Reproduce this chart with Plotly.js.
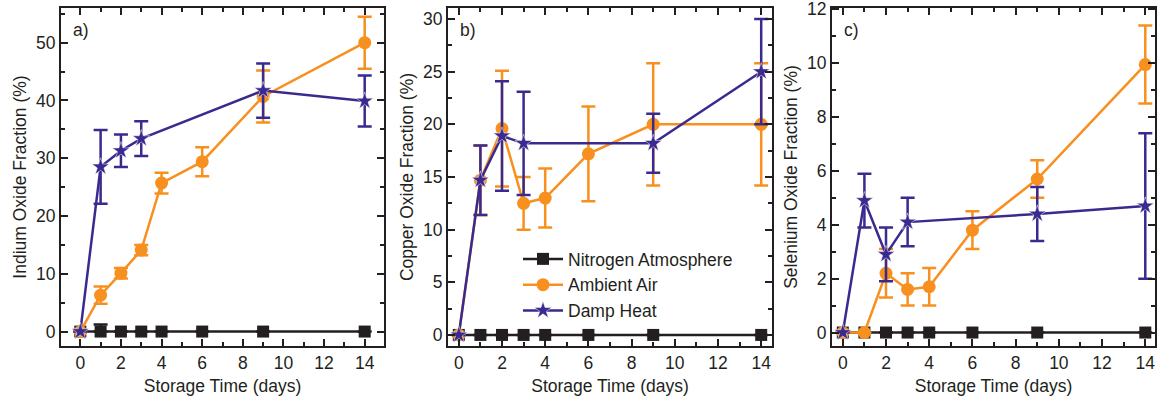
<!DOCTYPE html>
<html>
<head>
<meta charset="utf-8">
<script src="https://cdn.plot.ly/plotly-3.0.1.min.js"></script>
<style>html,body{margin:0;padding:0;background:#fff;}#chart{width:1157px;height:410px;}</style>
</head>
<body>
<div id="chart"></div>
<script>
// ---- data ----
const days = [0, 1, 2, 3, 4, 6, 9, 14];
const dampDays = [0, 1, 2, 3, 9, 14];
const seriesNames = ["Nitrogen Atmosphere", "Ambient Air", "Damp Heat"];
const panelLabels = ["a)", "b)", "c)"];
const yTitles = ["Indium Oxide Fraction (%)", "Copper Oxide Fraction (%)", "Selenium Oxide Fraction (%)"];
const xTitle = "Storage Time (days)";

// Indium oxide (panel a)
const inN2 = [0, 0, 0, 0, 0, 0, 0, 0];
const inN2Err = [0, 1.2, 0, 0, 0, 0, 0, 0];
const inAir = [0, 6.3, 10.1, 14.1, 25.7, 29.4, 40.7, 50.0];
const inAirErr = [0, 1.5, 0.9, 0.9, 1.8, 2.5, 4.5, 4.5];
const inDamp = [0, 28.5, 31.3, 33.4, 41.7, 39.9];
const inDampErr = [0, 6.4, 2.8, 3.0, 4.7, 4.4];

// Copper oxide (panel b)
const cuN2 = [0, 0, 0, 0, 0, 0, 0, 0];
const cuN2Err = [0, 0, 0, 0, 0, 0, 0, 0];
const cuAir = [0, 14.7, 19.6, 12.5, 13.0, 17.2, 20.0, 20.0];
const cuAirErr = [0, 3.3, 5.5, 2.5, 2.8, 4.5, 5.8, 5.8];
const cuDamp = [0, 14.7, 18.9, 18.2, 18.2, 25.0];
const cuDampErr = [0, 3.3, 5.2, 4.9, 2.8, 5.0];

// Selenium oxide (panel c)
const seN2 = [0, 0, 0, 0, 0, 0, 0, 0];
const seN2Err = [0, 0, 0, 0, 0, 0, 0, 0];
const seAir = [0, 0, 2.2, 1.6, 1.7, 3.8, 5.7, 9.95];
const seAirErr = [0, 0, 0.9, 0.6, 0.7, 0.7, 0.7, 1.45];
const seDamp = [0, 4.9, 2.9, 4.1, 4.4, 4.7];
const seDampErr = [0, 1.0, 1.0, 0.9, 1.0, 2.7];

const yRanges = [[-2.5, 56], [-1.05, 31.05], [-0.5, 12.05]];
const xRanges = [[-0.95, 14.95], [-0.5, 14.5], [-0.5, 14.45]];
const yDticks = [10, 5, 2];

// ---- styles ----
const cBlack = "#231F20", cOrange = "#F7901E", cNavy = "#3A2A8F";
const font = "Liberation Sans, Arial, sans-serif";
const fs = 17.5;

const panels = [
  [inN2, inN2Err, inAir, inAirErr, inDamp, inDampErr],
  [cuN2, cuN2Err, cuAir, cuAirErr, cuDamp, cuDampErr],
  [seN2, seN2Err, seAir, seAirErr, seDamp, seDampErr]
];

const traces = [];
panels.forEach((p, i) => {
  const ax = i === 0 ? "" : String(i + 1);
  const common = {type: "scatter", mode: "lines+markers", xaxis: "x" + ax, yaxis: "y" + ax};
  traces.push(Object.assign({}, common, {
    name: seriesNames[0], x: days, y: p[0], showlegend: i === 1, legendgroup: "n",
    line: {color: cBlack, width: 2.5},
    marker: {symbol: "square", size: 12, color: cBlack},
    error_y: {type: "data", array: p[1], arrayminus: p[1].map(() => 0), color: cBlack, thickness: 2.5, width: 7}
  }));
  traces.push(Object.assign({}, common, {
    name: seriesNames[1], x: days, y: p[2], showlegend: i === 1, legendgroup: "a",
    line: {color: cOrange, width: 2.5},
    marker: {symbol: "circle", size: 13, color: cOrange},
    error_y: {type: "data", array: p[3], color: cOrange, thickness: 2.5, width: 7}
  }));
  traces.push(Object.assign({}, common, {
    name: seriesNames[2], x: dampDays, y: p[4], showlegend: i === 1, legendgroup: "d",
    line: {color: cNavy, width: 2.5},
    marker: {symbol: "star", size: 13, color: cNavy, line: {color: "#ffffff", width: 0.5}},
    error_y: {type: "data", array: p[5], color: cNavy, thickness: 2.5, width: 7}
  }));
});

const W = 1157, H = 410;
const mL = 61, mR = 2, mT = 8, mB = 64;
const pw = W - mL - mR;
const frames = [[61, 384], [448, 772], [832, 1155]];

function axisBase() {
  return {
    showline: true, linecolor: cBlack, linewidth: 2, mirror: "ticks",
    ticks: "inside", ticklen: 7, tickwidth: 2, tickcolor: cBlack,
    showgrid: false, zeroline: false, ticklabeloverflow: "allow",
    tickfont: {family: font, size: fs, color: cBlack},
    title: {font: {family: font, size: fs, color: cBlack}}
  };
}

const layout = {
  width: W, height: H,
  margin: {l: mL, r: mR, t: mT, b: mB},
  paper_bgcolor: "#ffffff", plot_bgcolor: "#ffffff",
  showlegend: true,
  legend: {
    x: (518 - mL) / pw, y: 1 - (241 - mT) / (H - mT - mB), xanchor: "left", yanchor: "top",
    bgcolor: "rgba(0,0,0,0)", borderwidth: 0,
    font: {family: font, size: fs, color: cBlack},
    tracegroupgap: 0, itemwidth: 40
  },
  annotations: []
};

for (let i = 0; i < 3; i++) {
  const ax = i === 0 ? "" : String(i + 1);
  const xa = axisBase(), ya = axisBase();
  xa.domain = [(frames[i][0] - mL) / pw, (frames[i][1] - mL) / pw];
  xa.range = xRanges[i];
  xa.tickmode = "linear"; xa.tick0 = 0; xa.dtick = 2;
  xa.minor = {ticks: "inside", dtick: 1, tick0: 0, ticklen: 4, tickwidth: 2, tickcolor: cBlack};
  xa.anchor = "y" + ax;
  xa.title.text = xTitle;
  xa.title.standoff = 8;
  ya.domain = [0, 1];
  ya.range = yRanges[i];
  ya.tickmode = "linear"; ya.tick0 = 0; ya.dtick = yDticks[i];
  ya.minor = {ticks: "inside", dtick: yDticks[i] / 2, tick0: 0, ticklen: 4, tickwidth: 2, tickcolor: cBlack};
  ya.anchor = "x" + ax;
  ya.title.text = yTitles[i];
  ya.title.standoff = 5;
  layout["xaxis" + ax] = xa;
  layout["yaxis" + ax] = ya;
  layout.annotations.push({
    text: panelLabels[i], xref: "x" + ax + " domain", yref: "y" + ax + " domain",
    x: 0.03, y: 0.97, xanchor: "left", yanchor: "top", showarrow: false,
    font: {family: font, size: fs, color: cBlack}
  });
}

Plotly.newPlot("chart", traces, layout, {displayModeBar: false, staticPlot: true});
</script>
</body>
</html>
